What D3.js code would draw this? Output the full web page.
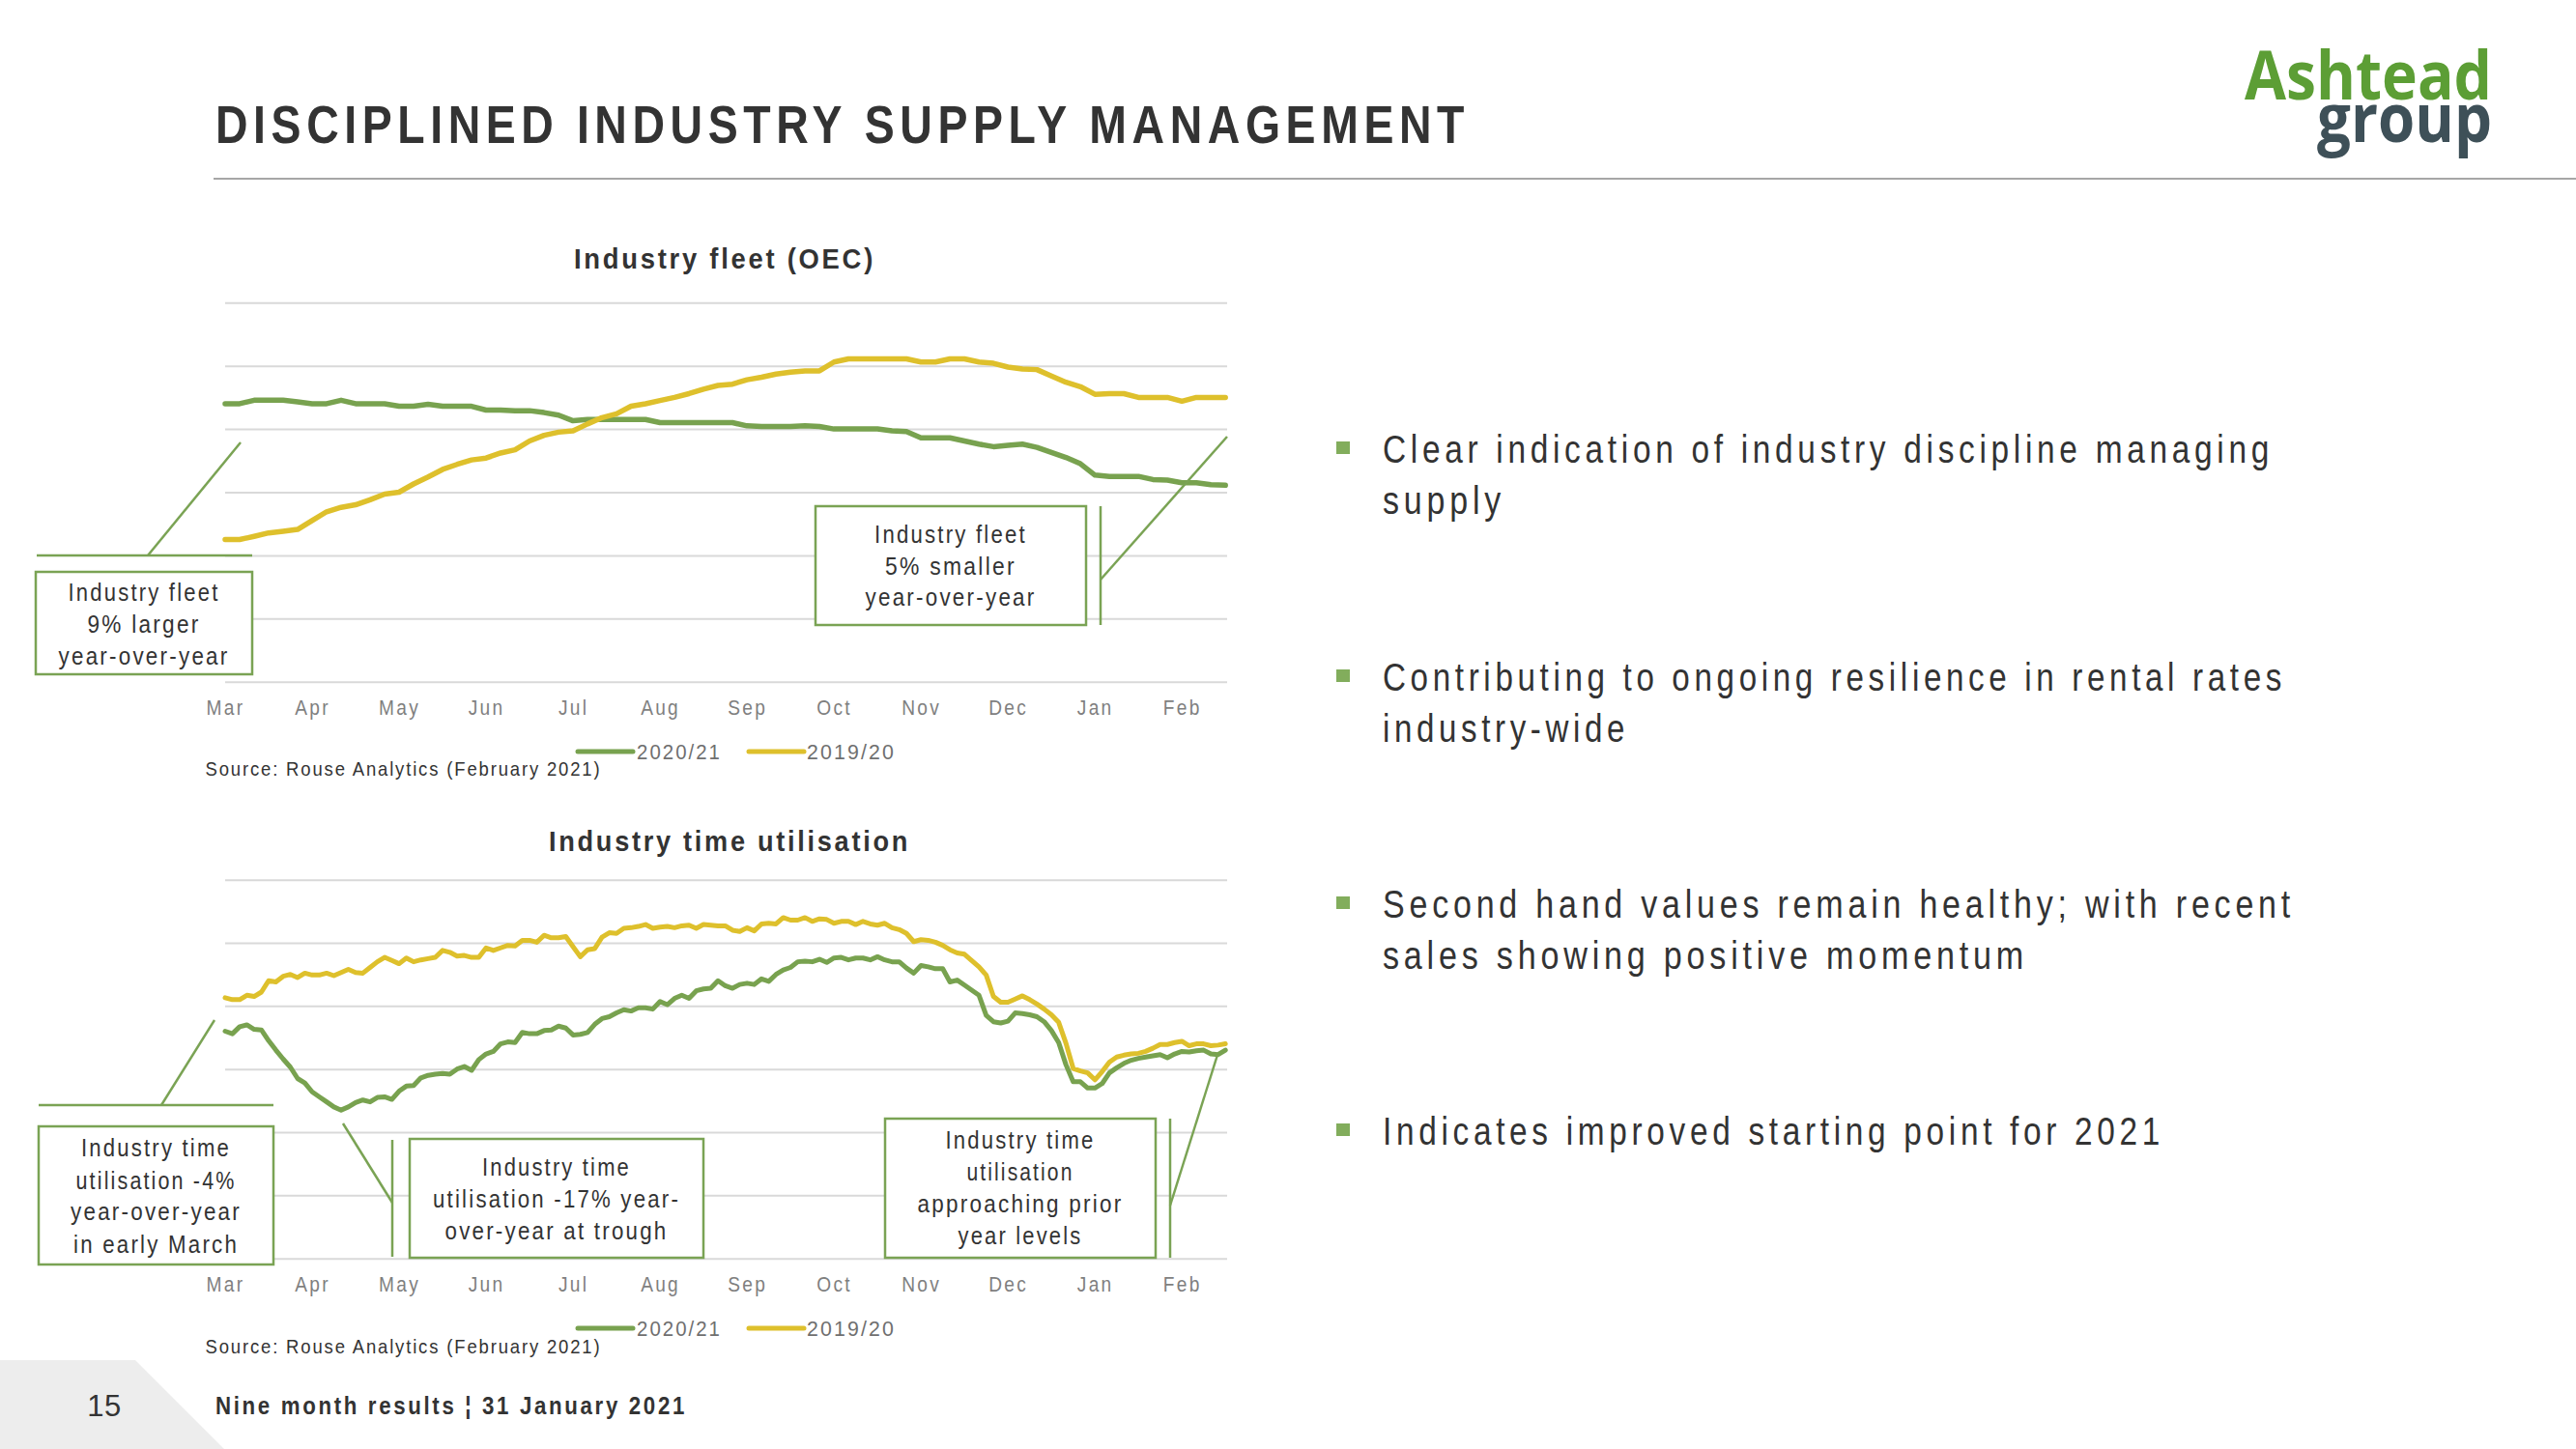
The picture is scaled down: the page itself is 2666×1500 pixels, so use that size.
<!DOCTYPE html>
<html><head><meta charset="utf-8">
<script src="https://cdn.jsdelivr.net/npm/d3@7"></script>
<style>html,body{margin:0;padding:0;background:#fff;}svg{display:block;}</style>
</head><body>
<svg id="c" width="2666" height="1500"></svg>
<script>
// ---------------- DATA ----------------
const months = ["Mar","Apr","May","Jun","Jul","Aug","Sep","Oct","Nov","Dec","Jan","Feb"];
const seriesNames = ["2020/21","2019/20"];
const gridValues = [0,1,2,3,4,5,6];

// Industry fleet (OEC), index in gridline units, one value every 1/6 month from 1 March
const fleetStep = 1/6;
const fleet2020 = [
4.40,4.40,4.455,4.455,4.455,4.43,
4.40,4.40,4.455,4.40,4.40,4.40,
4.36,4.36,4.39,4.36,4.36,4.36,
4.30,4.30,4.29,4.29,4.26,4.22,
4.13,4.15,4.15,4.15,4.15,4.15,
4.10,4.10,4.10,4.10,4.10,4.10,
4.05,4.04,4.04,4.04,4.05,4.04,
4.00,4.00,4.00,4.00,3.97,3.96,
3.86,3.86,3.86,3.81,3.76,3.72,
3.74,3.76,3.71,3.63,3.55,3.45,
3.27,3.25,3.25,3.25,3.20,3.19,
3.15,3.15,3.12,3.11];
const fleet2019 = [
2.25,2.25,2.30,2.355,2.38,2.41,
2.55,2.69,2.76,2.80,2.88,2.97,
3.00,3.13,3.24,3.36,3.44,3.51,
3.54,3.62,3.67,3.81,3.90,3.95,
3.97,4.08,4.18,4.24,4.36,4.40,
4.45,4.50,4.56,4.63,4.69,4.71,
4.78,4.82,4.87,4.90,4.92,4.92,
5.06,5.11,5.11,5.11,5.11,5.11,
5.06,5.06,5.11,5.11,5.06,5.04,
4.98,4.95,4.94,4.84,4.74,4.67,
4.55,4.56,4.56,4.50,4.50,4.50,
4.44,4.50,4.50,4.50];

// Industry time utilisation, gridline units, one value every 1/12 month
const utilStep = 1/12;
const util2020 = [
3.60,3.56,3.67,3.70,3.63,3.62,3.45,3.30,3.16,3.03,2.85,2.78,
2.64,2.56,2.48,2.40,2.35,2.40,2.47,2.51,2.48,2.55,2.56,2.52,
2.65,2.73,2.74,2.86,2.90,2.92,2.93,2.92,3.00,3.04,2.98,3.15,
3.24,3.28,3.40,3.43,3.42,3.58,3.56,3.56,3.61,3.62,3.68,3.65,
3.54,3.55,3.58,3.71,3.80,3.83,3.89,3.94,3.92,3.97,3.97,3.95,
4.07,4.02,4.12,4.17,4.12,4.24,4.27,4.28,4.40,4.32,4.28,4.34,
4.36,4.34,4.43,4.39,4.50,4.57,4.61,4.70,4.71,4.70,4.74,4.69,
4.76,4.77,4.73,4.76,4.76,4.73,4.78,4.73,4.70,4.70,4.60,4.52,
4.64,4.62,4.59,4.59,4.38,4.41,4.33,4.25,4.17,3.85,3.75,3.73,
3.76,3.89,3.88,3.86,3.83,3.75,3.61,3.42,3.07,2.80,2.80,2.70,
2.70,2.77,2.94,3.02,3.09,3.14,3.17,3.19,3.21,3.23,3.18,3.24,
3.28,3.27,3.29,3.30,3.24,3.23,3.30];
const util2019 = [
4.13,4.10,4.10,4.17,4.15,4.22,4.40,4.38,4.47,4.50,4.45,4.52,
4.49,4.49,4.52,4.48,4.53,4.58,4.53,4.52,4.61,4.70,4.77,4.72,
4.67,4.76,4.70,4.73,4.75,4.77,4.88,4.85,4.79,4.80,4.77,4.77,
4.92,4.88,4.92,4.96,4.95,5.04,5.04,5.01,5.12,5.08,5.08,5.10,
4.94,4.78,4.89,4.91,5.09,5.16,5.15,5.23,5.24,5.26,5.29,5.23,
5.25,5.26,5.24,5.27,5.28,5.23,5.29,5.28,5.27,5.27,5.20,5.18,
5.24,5.19,5.30,5.31,5.30,5.40,5.36,5.36,5.40,5.34,5.38,5.37,
5.31,5.34,5.34,5.29,5.34,5.30,5.28,5.31,5.24,5.21,5.15,5.02,
5.05,5.04,5.01,4.96,4.89,4.84,4.82,4.72,4.62,4.49,4.15,4.06,
4.06,4.11,4.16,4.10,4.03,3.95,3.86,3.74,3.41,3.01,2.97,2.94,
2.83,2.96,3.11,3.19,3.22,3.24,3.25,3.28,3.33,3.39,3.39,3.42,
3.44,3.37,3.40,3.40,3.37,3.38,3.40];

const bullets = [
  ["Clear indication of industry discipline managing","supply"],
  ["Contributing to ongoing resilience in rental rates","industry-wide"],
  ["Second hand values remain healthy; with recent","sales showing positive momentum"],
  ["Indicates improved starting point for 2021"]
];

// ---------------- STYLE / LAYOUT ----------------
const FONT = "'Liberation Sans', Arial, Helvetica, sans-serif";
const GREEN = "#78a24f", YELLOW = "#dec02c", BOXGREEN = "#7aa354", DARK = "#333333";
const svg = d3.select("#c");

function addText(parent, s, o) {
  const t = parent.append("text").text(s)
    .attr("x", o.x).attr("y", o.y)
    .attr("font-family", o.family || FONT)
    .attr("font-size", o.size)
    .attr("font-weight", o.weight || "normal")
    .attr("fill", o.fill || DARK)
    .attr("text-anchor", o.anchor || "start")
    .style("letter-spacing", (o.ls == null ? 0.12 : o.ls) + "em");
  if (o.width) t.attr("textLength", o.width).attr("lengthAdjust", "spacingAndGlyphs");
  return t;
}

// Header
addText(svg, "DISCIPLINED INDUSTRY SUPPLY MANAGEMENT", {x:223, y:148, size:56, weight:"bold", width:1298, ls:0.12});
svg.append("line").attr("x1",221).attr("x2",2666).attr("y1",185).attr("y2",185)
  .attr("stroke","#a6a6a6").attr("stroke-width",2);

// Logo as one text element with two lines
const logo = svg.append("text")
  .attr("font-family","'Open Sans', 'Noto Sans', sans-serif").attr("font-weight","bold").attr("font-size",70);
logo.append("tspan").attr("x",2323).attr("y",103).attr("fill","#5c9e35")
  .attr("textLength",256).attr("lengthAdjust","spacingAndGlyphs").text("Ashtead");
logo.append("tspan").attr("x",2398).attr("y",147).attr("fill","#3e5058")
  .attr("textLength",181).attr("lengthAdjust","spacingAndGlyphs").text("group");

// Footer
svg.append("polygon").attr("points","0,1408 140,1408 232,1500 0,1500").attr("fill","#ededed");
addText(svg, "15", {x:108, y:1466, size:31, anchor:"middle", ls:0.02, fill:DARK});
addText(svg, "Nine month results \u00A6 31 January 2021", {x:223, y:1464, size:25, weight:"bold", width:488, ls:0.12});

// Charts
const X0 = 233, X1 = 1270;
const charts = [
  {top:313.3, bottom:705.7, s20:fleet2020, s19:fleet2019, step:fleetStep, title:"Industry fleet (OEC)",
   titleX:750, titleY:278, titleW:312, axisY:740, legendY:778, sourceY:803, lw:5.5},
  {top:910.7, bottom:1302.7, s20:util2020, s19:util2019, step:utilStep, title:"Industry time utilisation",
   titleX:755, titleY:881, titleW:374, axisY:1337, legendY:1375, sourceY:1401, lw:5}
];

const x = d3.scaleLinear().domain([0, 11.52]).range([X0, X1]);

charts.forEach(c => {
  const g = svg.append("g");
  const y = d3.scaleLinear().domain([0, 6]).range([c.bottom, c.top]);

  // gridlines
  const grid = g.append("g").attr("transform", `translate(${X0},0)`)
    .call(d3.axisLeft(y).tickValues(gridValues).tickSize(-(X1 - X0)).tickFormat(""));
  grid.select(".domain").remove();
  grid.selectAll("line").attr("stroke","#d9d9d9").attr("stroke-width",2);

  // month axis
  const ax = g.append("g").attr("transform", `translate(0,${c.bottom})`)
    .call(d3.axisBottom(x).tickValues(d3.range(months.length)).tickSize(0).tickFormat(i => months[i]));
  ax.select(".domain").remove();
  ax.selectAll("text").attr("dy", 0).attr("y", c.axisY - c.bottom)
    .attr("font-family", FONT).attr("font-size", 22.5).attr("fill", "#7f7f7f")
    .style("letter-spacing","0.12em")
    .each(function(){ const w=this.getComputedTextLength(); d3.select(this).attr("textLength", w*0.85).attr("lengthAdjust","spacingAndGlyphs"); });

  // lines
  const line = d3.line().x((d,i) => x(i * c.step)).y(d => y(d));
  [[c.s20, GREEN],[c.s19, YELLOW]].forEach(([s, col]) => {
    g.append("path").datum(s).attr("d", line).attr("fill","none")
      .attr("stroke", col).attr("stroke-width", c.lw)
      .attr("stroke-linejoin","round").attr("stroke-linecap","round");
  });

  // title
  addText(g, c.title, {x:c.titleX, y:c.titleY, size:29, weight:"bold", anchor:"middle", width:c.titleW, ls:0.1});

  // legend
  const leg = [{x1:598, x2:655, tx:659, tw:88, col:GREEN, name:seriesNames[0]},
               {x1:775, x2:832, tx:835, tw:92, col:YELLOW, name:seriesNames[1]}];
  leg.forEach(l => {
    g.append("line").attr("x1",l.x1).attr("x2",l.x2).attr("y1",c.legendY).attr("y2",c.legendY)
      .attr("stroke",l.col).attr("stroke-width",5).attr("stroke-linecap","round");
    addText(g, l.name, {x:l.tx, y:c.legendY + 8, size:22, fill:"#6f6f6f", width:l.tw, ls:0.1});
  });

  // source
  addText(g, "Source: Rouse Analytics (February 2021)", {x:212.5, y:c.sourceY, size:21, width:410, ls:0.1});
});

// Annotation callouts
const callouts = [
  {box:[37,592,261,698], lines:[[38,575,261,575],[153,575,249,458]],
   text:["Industry fleet","9% larger","year-over-year"], base:[622,655,688], w:[157,117,177]},
  {box:[844,524,1124,647], lines:[[1139,524,1139,647],[1139,600,1270,452]],
   text:["Industry fleet","5% smaller","year-over-year"], base:[562,595,627], w:[158,136,177]},
  {box:[40,1166,283,1309], lines:[[40,1144,283,1144],[167,1144,222,1056]],
   text:["Industry time","utilisation -4%","year-over-year","in early March"], base:[1197,1231,1263,1297], w:[155,166,177,171]},
  {box:[424,1179,728,1302], lines:[[406,1180,406,1301],[406,1245,355,1163]],
   text:["Industry time","utilisation -17% year-","over-year at trough"], base:[1217,1250,1283], w:[154,256,231]},
  {box:[916,1158,1196,1302], lines:[[1211,1158,1211,1302],[1211,1248,1260,1092]],
   text:["Industry time","utilisation","approaching prior","year levels"], base:[1189,1222,1255,1288], w:[155,111,213,129]}
];
const cg = svg.append("g");
callouts.forEach(a => {
  a.lines.forEach(l => cg.append("line").attr("x1",l[0]).attr("y1",l[1]).attr("x2",l[2]).attr("y2",l[3])
    .attr("stroke",BOXGREEN).attr("stroke-width",2.5));
  const [bx0,by0,bx1,by1] = a.box;
  cg.append("rect").attr("x",bx0).attr("y",by0).attr("width",bx1-bx0).attr("height",by1-by0)
    .attr("fill","#fff").attr("stroke",BOXGREEN).attr("stroke-width",2.5);
  const cx = (bx0 + bx1) / 2;
  a.text.forEach((t,i) => addText(cg, t, {x:cx, y:a.base[i], size:25, anchor:"middle", width:a.w[i], ls:0.1}));
});

// Bullets on the right
const bulletBase = [479, 715, 950, 1185];
const bulletW = [[922,127],[935,255],[944,668],[809]];
const bg = svg.append("g");
bullets.forEach((b, i) => {
  bg.append("rect").attr("x",1383).attr("y",bulletBase[i]-22).attr("width",14).attr("height",13).attr("fill","#82ad5c");
  b.forEach((ln, j) => addText(bg, ln, {x:1431, y:bulletBase[i] + j*53, size:41, width:bulletW[i][j], ls:0.14}));
});
</script>
</body></html>
